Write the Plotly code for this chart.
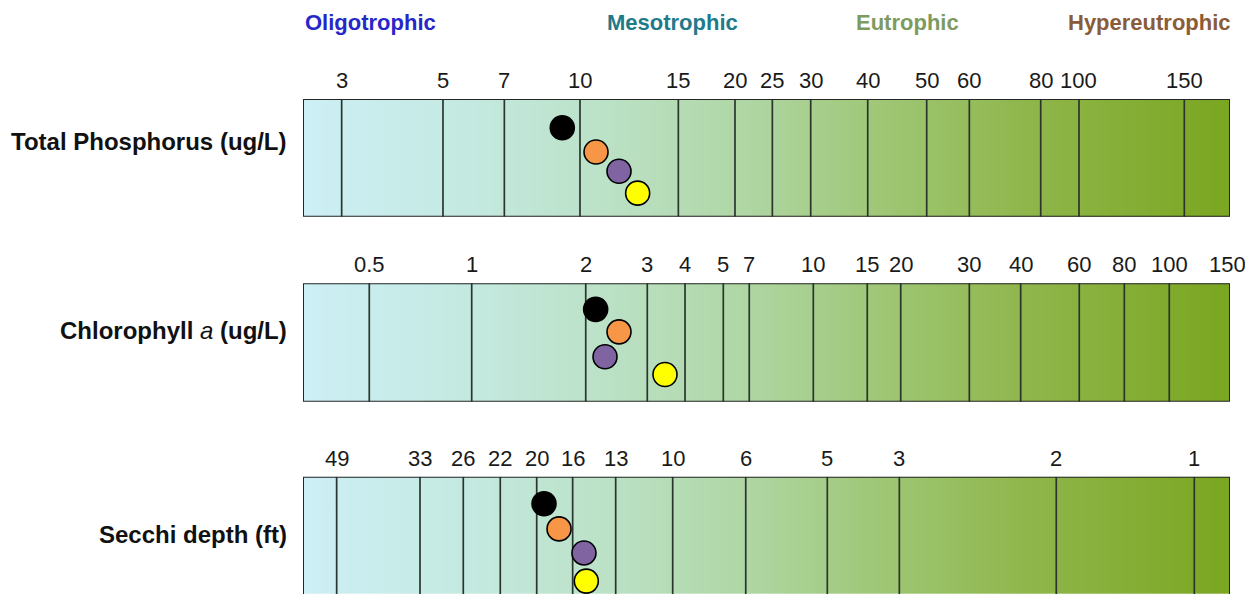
import numpy as np
import plotly.graph_objects as go

# ---------------- data ----------------
trophic_classes = ["Oligotrophic", "Mesotrophic", "Eutrophic", "Hypereutrophic"]
class_pos = [0.0, 39.9, 65.2, 100.0]          # position on common trophic scale (0-100)

row_names = ["Total Phosphorus (ug/L)", "Chlorophyll a (ug/L)", "Secchi depth (ft)"]

tp_ticks = ["3", "5", "7", "10", "15", "20", "25", "30", "40", "50", "60", "80", "100", "150"]
tp_pos = [4.17, 15.10, 21.72, 29.88, 40.49, 46.60, 50.63, 54.77, 60.92, 67.28, 71.88, 79.58, 83.71, 95.07]

chl_ticks = ["0.5", "1", "2", "3", "4", "5", "7", "10", "15", "20", "30", "40", "60", "80", "100", "150"]
chl_pos = [7.15, 18.20, 30.50, 37.14, 41.21, 45.34, 48.14, 55.05, 60.87, 64.48, 71.88, 77.42, 83.74, 88.60, 93.45, 99.7]

sd_ticks = ["49", "33", "26", "22", "20", "16", "13", "10", "6", "5", "3", "2", "1"]
sd_pos = [3.63, 12.62, 17.29, 21.28, 25.21, 29.09, 33.73, 39.88, 47.76, 56.56, 64.33, 81.26, 96.15]

sample_names = ["Sample 1", "Sample 2", "Sample 3", "Sample 4"]
tp_samples = [27.97, 31.61, 34.09, 36.10]
chl_samples = [31.57, 34.09, 32.58, 39.05]
sd_samples = [26.0, 27.62, 30.31, 30.56]

# ---------------- styles / layout ----------------
sample_colors = ["#000000", "#F79646", "#8064A2", "#FFFF00"]
class_colors = ["#2727c9", "#1f7a8a", "#7d9b5f", "#8a5b38"]
lanes = [
    [0.244, 0.45, 0.614, 0.80],
    [0.22, 0.41, 0.62, 0.77],
    [0.23, 0.445, 0.65, 0.89],
]
label_y = [0.365, 0.40, 0.494]
OFF = 8                      # page body margin of the browser
W, H = 1253 - OFF, 594 - OFF
row_px = [(99, 216.7), (283.3, 401.7), (476.7, 594)]
gradient = [
    [0.0, "#cdeff6"],
    [0.18, "#c4e9e0"],
    [0.33, "#bbe1c6"],
    [0.48, "#afd6a3"],
    [0.62, "#9fc776"],
    [0.78, "#8fb64b"],
    [1.0, "#7aa620"],
]
TICK_FONT = "Liberation Sans, Arial, Helvetica, sans-serif"
BOLD_FONT = "Liberation Sans, Arial, Helvetica, sans-serif"

rows = [
    (tp_ticks, tp_pos, tp_samples),
    (chl_ticks, chl_pos, chl_samples),
    (sd_ticks, sd_pos, sd_samples),
]

fig = go.Figure()
annotations = []
gx = np.linspace(0, 100, 201)

for i, (ticks, pos, samples) in enumerate(rows):
    yname = "y" if i == 0 else f"y{i + 1}"
    # gradient band
    fig.add_trace(go.Heatmap(
        x=gx, y=[0, 1], z=[gx / 100.0, gx / 100.0],
        colorscale=gradient, zmin=0, zmax=1, showscale=False,
        zsmooth="best", hoverinfo="skip", xaxis="x", yaxis=yname,
    ))
    # divider lines at each tick (a tick on the bar's edge merges with the border)
    lx, ly = [], []
    for p in pos:
        if p >= 99:
            continue
        lx += [p, p, None]
        ly += [0, 1, None]
    fig.add_trace(go.Scatter(
        x=lx, y=ly, mode="lines", line=dict(color="#2a352d", width=1.7),
        hoverinfo="skip", showlegend=False, xaxis="x", yaxis=yname,
    ))
    # border
    if i < 2:
        bx, by = [0, 100, 100, 0, 0], [0, 0, 1, 1, 0]
    else:
        bx, by = [0, 0, 100, 100], [1, 0, 0, 1]
    fig.add_trace(go.Scatter(
        x=bx, y=by, mode="lines", line=dict(color="#262626", width=2),
        hoverinfo="skip", showlegend=False, cliponaxis=False,
        xaxis="x", yaxis=yname,
    ))
    # sample dots
    for k, v in enumerate(samples):
        fig.add_trace(go.Scatter(
            x=[v], y=[lanes[i][k]], mode="markers", name=sample_names[k],
            marker=dict(size=24, color=sample_colors[k],
                        line=dict(color="#000000", width=1.6)),
            showlegend=False, cliponaxis=False, xaxis="x", yaxis=yname,
        ))
    # tick labels
    for t, p in zip(ticks, pos):
        annotations.append(dict(
            x=p, y=0, xref="x", yref=yname, text=t, showarrow=False,
            xanchor="center", yanchor="bottom", yshift=4,
            font=dict(family=TICK_FONT, size=22, color="#1a1a1a"),
        ))
    # row label
    label = row_names[i]
    if "Chlorophyll" in label:
        label = "<b>Chlorophyll </b><i>a</i><b> (ug/L)</b>"
    else:
        label = f"<b>{label}</b>"
    annotations.append(dict(
        x=0, y=label_y[i], xref="x", yref=yname, text=label, showarrow=False,
        xanchor="right", yanchor="middle", xshift=-14,
        font=dict(family=BOLD_FONT, size=24, color="#111111"),
    ))

# trophic class headings
anchors = ["left", "center", "center", "right"]
shifts = [0, 0, 0, 3]
for name, p, c, a, s in zip(trophic_classes, class_pos, class_colors, anchors, shifts):
    annotations.append(dict(
        x=p, y=1 - (22 - OFF) / H, xref="x", yref="paper", text=f"<b>{name}</b>",
        showarrow=False, xanchor=a, yanchor="middle", xshift=s,
        font=dict(family=BOLD_FONT, size=22, color=c),
    ))

layout = dict(
    width=W, height=H,
    margin=dict(l=303 - OFF, r=23, t=0, b=0),
    paper_bgcolor="white", plot_bgcolor="white",
    showlegend=False,
    xaxis=dict(range=[0, 100], visible=False, domain=[0, 1], fixedrange=True),
    annotations=annotations,
)
for i, (top, bot) in enumerate(row_px):
    key = "yaxis" if i == 0 else f"yaxis{i + 1}"
    top_p, bot_p = top - OFF, bot - OFF
    layout[key] = dict(
        range=[1, 0], visible=False, fixedrange=True,
        domain=[max(0.0, 1 - bot_p / H), 1 - top_p / H],
    )
fig.update_layout(**layout)
fig.write_html("out.html")
